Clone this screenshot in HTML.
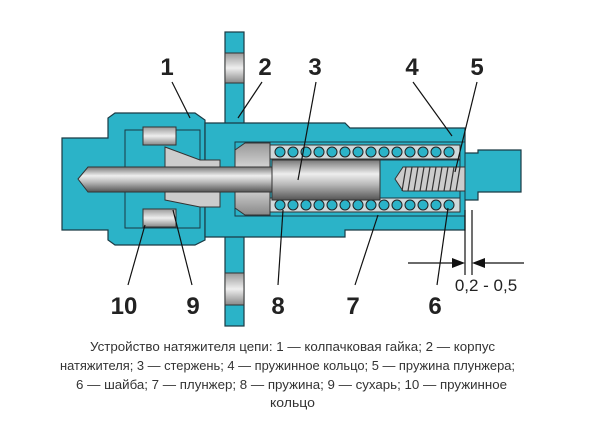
<!DOCTYPE html>
<html><head><meta charset="utf-8"><style>
html,body{margin:0;padding:0;background:#fff;width:600px;height:423px;overflow:hidden}
svg{display:block}
</style></head><body>
<svg width="600" height="423" viewBox="0 0 600 423" xmlns="http://www.w3.org/2000/svg">
<defs>
<linearGradient id="rod" x1="0" y1="0" x2="0" y2="1">
<stop offset="0" stop-color="#777"/><stop offset="0.35" stop-color="#eee"/><stop offset="0.6" stop-color="#bbb"/><stop offset="1" stop-color="#555"/>
</linearGradient>
<linearGradient id="gr" x1="0" y1="0" x2="0" y2="1">
<stop offset="0" stop-color="#999"/><stop offset="0.5" stop-color="#eee"/><stop offset="1" stop-color="#888"/>
</linearGradient>
</defs>
<g stroke="#1a3a44" stroke-width="1.2" fill="#2bb3c8">
<!-- flange -->
<rect x="225" y="32" width="19" height="294"/>
<!-- cap nut -->
<path d="M62 138 L108 138 L108 118 L115 113 L195 113 L205 120 L205 240 L195 245 L115 245 L108 240 L108 230 L62 230 Z"/>
<!-- body -->
<path d="M205 123 L345 123 L350 128 L465 128 L465 153 L478 153 L478 150 L521 150 L521 192 L478 192 L478 200 L465 200 L465 230 L345 230 L345 237 L205 237 Z"/>
</g>
<!-- flange holes -->
<rect x="225" y="53" width="19" height="30" fill="url(#gr)" stroke="#333"/>
<rect x="225" y="273" width="19" height="32" fill="url(#gr)" stroke="#333"/>
<!-- inner cavity of cap -->
<path d="M125 130 L200 130 L200 228 L125 228 Z" fill="#2bb3c8" stroke="#1a3a44"/>
<rect x="143" y="127" width="33" height="18" fill="url(#gr)" stroke="#333"/>
<rect x="143" y="209" width="33" height="18" fill="url(#gr)" stroke="#333"/>
<path d="M165 147 L200 160 L220 160 L220 172 L165 172 Z" fill="#ccc" stroke="#333"/>
<path d="M165 200 L200 207 L220 207 L220 192 L165 192 Z" fill="#ccc" stroke="#333"/>
<!-- bore -->
<rect x="235" y="142" width="230" height="74" fill="#2bb3c8" stroke="#1a3a44"/>
<path d="M235 150 L245 143 L270 143 L270 215 L245 215 L235 208 Z" fill="url(#gr)" stroke="#333"/>
<rect x="270" y="145" width="190" height="14" fill="#cfd8da" stroke="#333"/>
<rect x="270" y="198" width="190" height="14" fill="#cfd8da" stroke="#333"/>
<g fill="#2bb3c8" stroke="#222" stroke-width="1">
<circle cx="280" cy="152" r="5"/><circle cx="293" cy="152" r="5"/><circle cx="306" cy="152" r="5"/><circle cx="319" cy="152" r="5"/><circle cx="332" cy="152" r="5"/><circle cx="345" cy="152" r="5"/><circle cx="358" cy="152" r="5"/><circle cx="371" cy="152" r="5"/><circle cx="384" cy="152" r="5"/><circle cx="397" cy="152" r="5"/><circle cx="410" cy="152" r="5"/><circle cx="423" cy="152" r="5"/><circle cx="436" cy="152" r="5"/><circle cx="449" cy="152" r="5"/>
<circle cx="280" cy="205" r="5"/><circle cx="293" cy="205" r="5"/><circle cx="306" cy="205" r="5"/><circle cx="319" cy="205" r="5"/><circle cx="332" cy="205" r="5"/><circle cx="345" cy="205" r="5"/><circle cx="358" cy="205" r="5"/><circle cx="371" cy="205" r="5"/><circle cx="384" cy="205" r="5"/><circle cx="397" cy="205" r="5"/><circle cx="410" cy="205" r="5"/><circle cx="423" cy="205" r="5"/><circle cx="436" cy="205" r="5"/><circle cx="449" cy="205" r="5"/>
</g>
<!-- plunger interior -->
<path d="M272 160 L460 160 L460 198 L272 198 Z" fill="#2bb3c8" stroke="#1a3a44"/>
<path d="M395 179 L403 167 L465 167 L465 191 L403 191 Z" fill="#ccc" stroke="#333"/>
<g stroke="#333" stroke-width="1.2">
<line x1="406" y1="167" x2="402" y2="191"/><line x1="412" y1="167" x2="408" y2="191"/><line x1="418" y1="167" x2="414" y2="191"/><line x1="424" y1="167" x2="420" y2="191"/><line x1="430" y1="167" x2="426" y2="191"/><line x1="436" y1="167" x2="432" y2="191"/><line x1="442" y1="167" x2="438" y2="191"/><line x1="448" y1="167" x2="444" y2="191"/><line x1="454" y1="167" x2="450" y2="191"/><line x1="460" y1="167" x2="456" y2="191"/>
</g>
<!-- rod -->
<path d="M78 179 L88 167 L380 167 L380 192 L88 192 Z" fill="url(#rod)" stroke="#333"/>
<rect x="272" y="160" width="108" height="40" fill="url(#rod)" stroke="#333"/>
<!-- leaders -->
<g stroke="#111" stroke-width="1.2" fill="none">
<line x1="172" y1="82" x2="190" y2="118"/>
<line x1="262" y1="82" x2="238" y2="118"/>
<line x1="316" y1="82" x2="298" y2="180"/>
<line x1="413" y1="82" x2="452" y2="136"/>
<line x1="477" y1="82" x2="455" y2="172"/>
<line x1="128" y1="285" x2="145" y2="225"/>
<line x1="192" y1="285" x2="173" y2="210"/>
<line x1="278" y1="285" x2="283" y2="210"/>
<line x1="355" y1="285" x2="378" y2="215"/>
<line x1="437" y1="285" x2="448" y2="208"/>
<line x1="465" y1="210" x2="465" y2="275"/>
<line x1="472" y1="210" x2="472" y2="275"/>
<line x1="408" y1="263" x2="458" y2="263"/>
<line x1="480" y1="263" x2="524" y2="263"/>
</g>
<path d="M465 263 L452 258 L452 268 Z" fill="#111"/>
<path d="M472 263 L485 258 L485 268 Z" fill="#111"/>
<g font-family="Liberation Sans, sans-serif" font-weight="bold" font-size="24" fill="#222" text-anchor="middle">
<text x="167" y="75">1</text><text x="265" y="75">2</text><text x="315" y="75">3</text><text x="412" y="75">4</text><text x="477" y="75">5</text>
<text x="124" y="314">10</text><text x="193" y="314">9</text><text x="278" y="314">8</text><text x="353" y="314">7</text><text x="435" y="314">6</text>
</g>
<text x="486" y="291" font-family="Liberation Sans, sans-serif" font-size="17" fill="#222" text-anchor="middle">0,2 - 0,5</text>
<g font-family="Liberation Sans, sans-serif" font-size="13" fill="#333">
<text x="90" y="351" textLength="405" lengthAdjust="spacingAndGlyphs">Устройство натяжителя цепи: 1 — колпачковая гайка; 2 — корпус</text>
<text x="60" y="370" textLength="455" lengthAdjust="spacingAndGlyphs">натяжителя; 3 — стержень; 4 — пружинное кольцо; 5 — пружина плунжера;</text>
<text x="76" y="389" textLength="431" lengthAdjust="spacingAndGlyphs">6 — шайба; 7 — плунжер; 8 — пружина; 9 — сухарь; 10 — пружинное</text>
<text x="270" y="407" textLength="45" lengthAdjust="spacingAndGlyphs">кольцо</text>
</g>
</svg>
</body></html>
